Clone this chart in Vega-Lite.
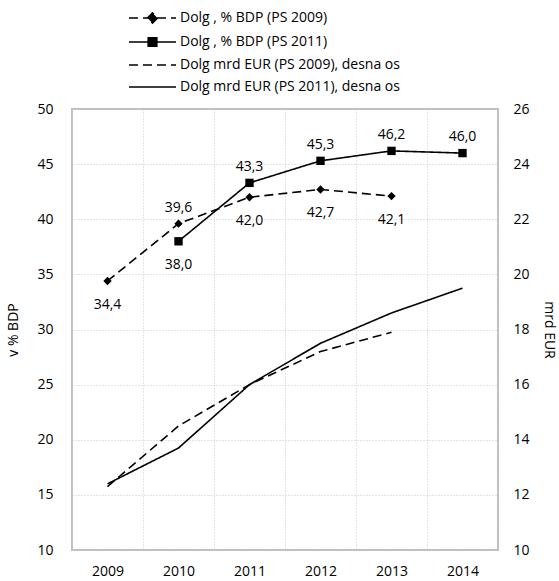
{
  "$schema": "https://vega.github.io/schema/vega-lite/v6.json",
  "width": 426,
  "height": 441,
  "autosize": {"type": "none"},
  "padding": {"left": 72, "top": 109, "right": 61, "bottom": 31},
  "background": "white",
  "config": {
    "locale": {"number": {"decimal": ",", "thousands": ".", "grouping": [3], "currency": ["", " €"]}},
    "font": "Open Sans",
    "view": {"stroke": "#bfbfbf", "strokeWidth": 2},
    "axis": {
      "labelFont": "Open Sans",
      "labelFontSize": 14,
      "labelColor": "#000000",
      "titleFont": "Open Sans",
      "titleFontSize": 14,
      "titleFontWeight": "normal",
      "titleColor": "#000000",
      "ticks": false,
      "domainColor": "#bfbfbf",
      "domainWidth": 2,
      "gridColor": "#c8c8c8",
      "gridDash": [1, 2],
      "gridWidth": 1
    }
  },
  "data": {
    "values": [
      {"year": "2009", "series": "Dolg , % BDP (PS 2009)", "value": 34.4},
      {"year": "2010", "series": "Dolg , % BDP (PS 2009)", "value": 39.6},
      {"year": "2011", "series": "Dolg , % BDP (PS 2009)", "value": 42.0},
      {"year": "2012", "series": "Dolg , % BDP (PS 2009)", "value": 42.7},
      {"year": "2013", "series": "Dolg , % BDP (PS 2009)", "value": 42.1},
      {"year": "2010", "series": "Dolg , % BDP (PS 2011)", "value": 38.0},
      {"year": "2011", "series": "Dolg , % BDP (PS 2011)", "value": 43.3},
      {"year": "2012", "series": "Dolg , % BDP (PS 2011)", "value": 45.3},
      {"year": "2013", "series": "Dolg , % BDP (PS 2011)", "value": 46.2},
      {"year": "2014", "series": "Dolg , % BDP (PS 2011)", "value": 46.0},
      {"year": "2009", "series": "Dolg  mrd EUR (PS 2009), desna os", "value": 12.3},
      {"year": "2010", "series": "Dolg  mrd EUR (PS 2009), desna os", "value": 14.5},
      {"year": "2011", "series": "Dolg  mrd EUR (PS 2009), desna os", "value": 16.0},
      {"year": "2012", "series": "Dolg  mrd EUR (PS 2009), desna os", "value": 17.2},
      {"year": "2013", "series": "Dolg  mrd EUR (PS 2009), desna os", "value": 17.9},
      {"year": "2009", "series": "Dolg  mrd EUR (PS 2011), desna os", "value": 12.4},
      {"year": "2010", "series": "Dolg  mrd EUR (PS 2011), desna os", "value": 13.7},
      {"year": "2011", "series": "Dolg  mrd EUR (PS 2011), desna os", "value": 16.0},
      {"year": "2012", "series": "Dolg  mrd EUR (PS 2011), desna os", "value": 17.5},
      {"year": "2013", "series": "Dolg  mrd EUR (PS 2011), desna os", "value": 18.6},
      {"year": "2014", "series": "Dolg  mrd EUR (PS 2011), desna os", "value": 19.5}
    ]
  },
  "encoding": {
    "x": {
      "field": "year",
      "type": "ordinal",
      "scale": {"type": "band", "paddingInner": 0, "paddingOuter": 0},
      "axis": {"title": null, "labelAngle": 0, "labelPadding": 14, "grid": true, "tickBand": "extent", "domain": false}
    }
  },
  "layer": [
    {
      "transform": [{"filter": "indexof(datum.series, 'BDP') >= 0"}],
      "encoding": {
        "y": {
          "field": "value",
          "type": "quantitative",
          "scale": {"domain": [10, 50], "nice": false, "zero": false},
          "axis": {"title": "v % BDP", "values": [10, 15, 20, 25, 30, 35, 40, 45, 50], "labelPadding": 19, "titlePadding": 16, "grid": true, "domain": false}
        }
      },
      "layer": [
        {
          "mark": {"type": "line", "color": "black", "strokeWidth": 1.6},
          "encoding": {
            "strokeDash": {
              "field": "series",
              "type": "nominal",
              "scale": {
                "domain": ["Dolg , % BDP (PS 2009)", "Dolg , % BDP (PS 2011)", "Dolg  mrd EUR (PS 2009), desna os", "Dolg  mrd EUR (PS 2011), desna os"],
                "range": [[9, 5], [1, 0], [9, 5], [1, 0]]
              },
              "legend": {
                "title": null,
                "orient": "none",
                "legendX": 69.5,
                "legendY": -102,
                "direction": "vertical",
                "padding": 0,
                "rowPadding": 4,
                "symbolSize": 400,
                "symbolStrokeColor": "black",
                "symbolFillColor": "black",
                "symbolStrokeWidth": 1.6,
                "labelFont": "Open Sans",
                "labelFontSize": 14,
                "labelColor": "black",
                "labelOffset": 16.5,
                "labelLimit": 400,
                "encode": {
                  "symbols": {
                    "update": {
                      "shape": {"signal": "datum.value === 'Dolg , % BDP (PS 2009)' ? 'M-2.35,0L2.35,0M-0.5,0L0,-0.5L0.5,0L0,0.5Z' : datum.value === 'Dolg , % BDP (PS 2011)' ? 'M-2.35,0L2.35,0M-0.43,-0.43L0.43,-0.43L0.43,0.43L-0.43,0.43Z' : 'M-2.35,0L2.35,0'"},
                      "fill": {"value": "black"},
                      "stroke": {"value": "black"}
                    }
                  }
                }
              }
            }
          }
        },
        {
          "mark": {"type": "point", "filled": true, "color": "black", "opacity": 1, "size": 70},
          "encoding": {
            "shape": {
              "field": "series",
              "type": "nominal",
              "scale": {"domain": ["Dolg , % BDP (PS 2009)", "Dolg , % BDP (PS 2011)"], "range": ["diamond", "square"]},
              "legend": null
            }
          }
        },
        {
          "transform": [{"filter": "(indexof(datum.series, 'PS 2011') >= 0 && datum.year !== '2010') || (indexof(datum.series, 'PS 2009') >= 0 && datum.year === '2010')"}],
          "mark": {"type": "text", "font": "Open Sans", "fontSize": 14, "color": "black", "baseline": "middle", "dy": -16},
          "encoding": {"text": {"field": "value", "type": "quantitative", "format": ".1f"}}
        },
        {
          "transform": [{"filter": "!((indexof(datum.series, 'PS 2011') >= 0 && datum.year !== '2010') || (indexof(datum.series, 'PS 2009') >= 0 && datum.year === '2010'))"}],
          "mark": {"type": "text", "font": "Open Sans", "fontSize": 14, "color": "black", "baseline": "middle", "dy": 24},
          "encoding": {"text": {"field": "value", "type": "quantitative", "format": ".1f"}}
        }
      ]
    },
    {
      "transform": [{"filter": "indexof(datum.series, 'EUR') >= 0"}],
      "mark": {"type": "line", "color": "black", "strokeWidth": 1.6},
      "encoding": {
        "y": {
          "field": "value",
          "type": "quantitative",
          "scale": {"domain": [10, 26], "nice": false, "zero": false},
          "axis": {"orient": "right", "title": "mrd EUR", "values": [10, 12, 14, 16, 18, 20, 22, 24, 26], "labelPadding": 15, "titlePadding": 12, "grid": false, "domain": false}
        },
        "strokeDash": {"field": "series", "type": "nominal"}
      }
    }
  ],
  "resolve": {"scale": {"y": "independent"}}
}
